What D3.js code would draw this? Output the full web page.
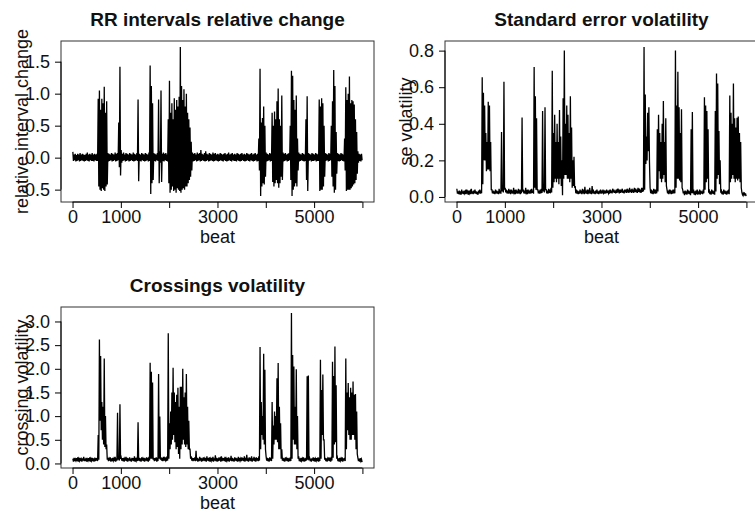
<!DOCTYPE html>
<html lang="en">
<head>
    <meta charset="utf-8">
    <script src="https://cdn.jsdelivr.net/npm/d3@7"></script>
    <title>RR interval volatility</title>
    <style>
        html, body { margin: 0; padding: 0; background: white; }
        svg { display: block; font-family: "Liberation Sans", Arial, sans-serif; }
    </style>
</head>
<body>
<div id="chart"></div>
<script>
    // Series length and bin size: each value below is the highest / lowest value in a 25-beat bin
    // (one row = 20 bins = 500 beats)
    const nBeats = 6000;
    const binSize = 25;

    // RR intervals relative change
    const rrHigh = [
        0.09,0.05,0.06,0.04,0.06,0.05,0.07,0.05,0.06,0.05,0.04,0.06,0.08,0.05,0.06,0.05,0.07,0.05,0.06,0.05,
        0.06,0.92,1.05,0.75,0.92,0.85,1.11,0.70,0.88,0.07,0.06,0.05,0.07,0.06,0.05,0.08,0.06,0.07,0.55,1.42,
        0.12,0.06,0.08,0.05,0.07,0.06,0.05,0.07,0.06,0.05,0.08,0.06,0.05,0.07,0.91,0.06,0.05,0.07,0.06,0.05,
        0.07,0.06,0.05,0.08,1.44,1.12,0.85,0.07,0.06,0.05,0.07,0.91,0.10,1.05,0.06,0.08,0.06,0.07,0.05,0.60,
        1.20,0.70,0.85,0.60,0.93,0.75,0.90,0.80,0.95,1.73,1.12,0.90,1.07,0.80,1.00,0.70,0.60,0.47,0.25,0.08,
        0.06,0.07,0.05,0.08,0.06,0.07,0.12,0.06,0.05,0.07,0.10,0.06,0.05,0.07,0.06,0.05,0.08,0.06,0.07,0.05,
        0.06,0.05,0.07,0.06,0.05,0.06,0.07,0.05,0.06,0.08,0.05,0.06,0.07,0.05,0.06,0.05,0.07,0.06,0.05,0.06,
        0.07,0.05,0.06,0.05,0.07,0.06,0.05,0.06,0.07,0.05,0.06,0.07,0.05,0.06,0.30,1.39,0.55,0.62,0.80,0.50,
        0.08,0.06,0.05,0.07,0.06,0.70,0.50,0.72,0.60,0.88,1.08,0.60,0.50,0.97,0.08,0.06,0.07,0.05,0.06,0.07,
        0.50,1.36,1.28,0.90,0.75,0.97,0.30,0.08,0.06,0.05,0.07,0.06,0.05,0.60,0.96,0.07,0.06,0.05,0.07,0.06,
        0.05,0.07,0.06,0.05,0.91,0.80,0.93,0.85,0.50,0.07,0.06,0.05,0.07,0.06,0.50,0.88,1.37,1.12,0.40,0.07,
        0.06,0.05,0.07,0.06,0.05,0.30,1.10,0.90,1.00,1.27,0.85,0.90,0.88,0.83,0.60,0.40,0.10,0.06,0.05,0.06
    ];
    const rrLow = [
        -0.05,-0.04,-0.06,-0.05,-0.04,-0.06,-0.05,-0.04,-0.05,-0.06,-0.05,-0.04,-0.05,-0.06,-0.04,-0.05,-0.05,-0.06,-0.04,-0.05,
        -0.05,-0.45,-0.50,-0.52,-0.48,-0.50,-0.52,-0.45,-0.42,-0.06,-0.05,-0.04,-0.06,-0.05,-0.04,-0.06,-0.05,-0.04,-0.15,-0.28,
        -0.08,-0.05,-0.04,-0.06,-0.05,-0.04,-0.06,-0.05,-0.04,-0.05,-0.06,-0.05,-0.04,-0.05,-0.37,-0.05,-0.06,-0.04,-0.05,-0.06,
        -0.05,-0.04,-0.06,-0.05,-0.57,-0.40,-0.35,-0.05,-0.06,-0.04,-0.05,-0.40,-0.08,-0.38,-0.05,-0.06,-0.04,-0.05,-0.06,-0.40,
        -0.55,-0.50,-0.45,-0.52,-0.50,-0.55,-0.48,-0.50,-0.52,-0.55,-0.50,-0.48,-0.50,-0.45,-0.45,-0.40,-0.35,-0.30,-0.20,-0.06,
        -0.05,-0.04,-0.06,-0.05,-0.04,-0.06,-0.05,-0.04,-0.05,-0.06,-0.05,-0.04,-0.06,-0.05,-0.04,-0.05,-0.06,-0.05,-0.04,-0.05,
        -0.06,-0.05,-0.04,-0.05,-0.06,-0.04,-0.05,-0.06,-0.05,-0.04,-0.05,-0.06,-0.04,-0.05,-0.05,-0.06,-0.04,-0.05,-0.06,-0.05,
        -0.04,-0.05,-0.06,-0.05,-0.04,-0.05,-0.06,-0.04,-0.05,-0.06,-0.05,-0.04,-0.06,-0.05,-0.20,-0.60,-0.45,-0.40,-0.42,-0.30,
        -0.06,-0.05,-0.04,-0.06,-0.05,-0.38,-0.45,-0.40,-0.35,-0.40,-0.47,-0.40,-0.30,-0.35,-0.06,-0.05,-0.04,-0.06,-0.05,-0.04,
        -0.35,-0.60,-0.50,-0.45,-0.40,-0.45,-0.20,-0.06,-0.05,-0.04,-0.05,-0.06,-0.05,-0.35,-0.52,-0.05,-0.04,-0.06,-0.05,-0.05,
        -0.04,-0.06,-0.05,-0.05,-0.52,-0.50,-0.50,-0.45,-0.30,-0.05,-0.04,-0.06,-0.05,-0.04,-0.30,-0.45,-0.55,-0.50,-0.25,-0.05,
        -0.06,-0.05,-0.04,-0.05,-0.06,-0.20,-0.52,-0.50,-0.50,-0.50,-0.48,-0.45,-0.42,-0.40,-0.35,-0.25,-0.08,-0.05,-0.06,-0.04
    ];

    // Standard error volatility
    const seHigh = [
        0.045,0.03,0.035,0.025,0.04,0.03,0.035,0.03,0.04,0.028,0.035,0.03,0.045,0.03,0.035,0.04,0.03,0.028,0.035,0.04,
        0.035,0.655,0.57,0.50,0.35,0.30,0.52,0.50,0.30,0.04,0.035,0.03,0.04,0.035,0.03,0.045,0.035,0.355,0.05,0.63,
        0.05,0.04,0.035,0.045,0.03,0.04,0.035,0.05,0.03,0.04,0.035,0.045,0.03,0.04,0.435,0.04,0.035,0.05,0.03,0.04,
        0.035,0.04,0.045,0.035,0.71,0.55,0.43,0.04,0.035,0.04,0.045,0.47,0.05,0.49,0.04,0.035,0.045,0.04,0.05,0.69,
        0.35,0.45,0.30,0.40,0.30,0.475,0.33,0.20,0.54,0.80,0.40,0.50,0.45,0.35,0.55,0.38,0.20,0.22,0.06,0.04,
        0.035,0.03,0.04,0.035,0.045,0.03,0.055,0.035,0.04,0.03,0.05,0.035,0.06,0.04,0.03,0.035,0.04,0.03,0.035,0.04,
        0.035,0.04,0.03,0.035,0.04,0.035,0.03,0.04,0.035,0.045,0.04,0.035,0.04,0.045,0.035,0.04,0.04,0.045,0.035,0.04,
        0.04,0.045,0.04,0.05,0.04,0.045,0.04,0.05,0.045,0.04,0.05,0.045,0.04,0.05,0.05,0.82,0.56,0.33,0.46,0.49,
        0.05,0.04,0.035,0.045,0.04,0.04,0.37,0.45,0.35,0.30,0.40,0.525,0.30,0.43,0.04,0.035,0.04,0.03,0.035,0.04,
        0.04,0.80,0.50,0.685,0.49,0.35,0.48,0.04,0.03,0.035,0.03,0.04,0.035,0.03,0.37,0.465,0.04,0.03,0.035,0.04,
        0.03,0.04,0.035,0.03,0.04,0.545,0.50,0.47,0.37,0.035,0.03,0.04,0.035,0.03,0.47,0.675,0.62,0.36,0.20,0.035,
        0.03,0.04,0.035,0.03,0.035,0.04,0.555,0.46,0.40,0.62,0.43,0.38,0.433,0.44,0.35,0.30,0.025,0.02,0.025,0.02
    ];
    const seLow = [
        0.018,0.015,0.02,0.012,0.018,0.015,0.02,0.015,0.018,0.012,0.02,0.015,0.018,0.015,0.02,0.018,0.015,0.012,0.02,0.018,
        0.02,0.07,0.20,0.20,0.14,0.15,0.15,0.14,0.04,0.02,0.018,0.015,0.02,0.018,0.015,0.02,0.018,0.03,0.025,0.04,
        0.025,0.02,0.018,0.02,0.015,0.02,0.018,0.022,0.015,0.02,0.018,0.02,0.015,0.02,0.03,0.02,0.018,0.022,0.015,0.02,
        0.018,0.02,0.022,0.018,0.05,0.04,0.04,0.02,0.018,0.02,0.022,0.03,0.025,0.04,0.02,0.018,0.022,0.02,0.025,0.05,
        0.08,0.10,0.08,0.10,0.07,0.10,0.06,0.01,0.10,0.12,0.12,0.10,0.10,0.08,0.10,0.05,0.06,0.05,0.02,0.018,
        0.015,0.018,0.02,0.015,0.02,0.015,0.02,0.018,0.015,0.02,0.018,0.015,0.02,0.018,0.015,0.02,0.018,0.015,0.02,0.018,
        0.02,0.022,0.018,0.02,0.022,0.02,0.018,0.022,0.02,0.025,0.022,0.02,0.022,0.025,0.02,0.022,0.025,0.022,0.02,0.025,
        0.022,0.025,0.022,0.028,0.022,0.025,0.022,0.028,0.025,0.022,0.028,0.025,0.022,0.028,0.03,0.04,0.18,0.20,0.25,0.19,
        0.02,0.018,0.015,0.02,0.018,0.02,0.03,0.14,0.10,0.08,0.10,0.12,0.08,0.06,0.02,0.015,0.02,0.015,0.018,0.02,
        0.02,0.05,0.10,0.10,0.09,0.08,0.05,0.02,0.01,0.015,0.012,0.018,0.015,0.01,0.02,0.02,0.012,0.01,0.015,0.012,
        0.015,0.012,0.018,0.015,0.02,0.04,0.08,0.10,0.03,0.015,0.012,0.018,0.015,0.012,0.03,0.10,0.12,0.07,0.03,0.015,
        0.012,0.018,0.015,0.012,0.018,0.015,0.08,0.10,0.12,0.10,0.08,0.10,0.09,0.10,0.08,0.05,0.012,0.01,0.008,0.005
    ];

    // Crossings volatility
    const crHigh = [
        0.10,0.12,0.09,0.11,0.13,0.10,0.12,0.09,0.11,0.14,0.10,0.12,0.09,0.11,0.13,0.10,0.12,0.11,0.09,0.12,
        0.11,0.60,2.62,2.27,1.30,1.20,2.22,1.00,0.40,0.12,0.10,0.13,0.11,0.12,0.10,0.14,0.11,1.07,0.15,1.25,
        0.13,0.11,0.12,0.10,0.14,0.12,0.11,0.13,0.10,0.12,0.11,0.15,0.12,0.10,0.87,0.12,0.11,0.13,0.10,0.12,
        0.11,0.13,0.12,0.14,2.13,1.94,1.71,0.12,0.11,0.13,0.12,1.89,0.99,0.13,0.12,0.14,0.11,0.13,0.15,2.75,
        0.85,1.10,1.50,2.02,1.50,1.30,1.45,1.60,1.20,1.62,1.62,2.00,1.40,1.50,1.89,1.20,0.90,0.30,0.15,0.12,
        0.11,0.13,0.27,0.12,0.10,0.14,0.12,0.11,0.13,0.10,0.12,0.15,0.11,0.13,0.10,0.12,0.14,0.11,0.17,0.12,
        0.11,0.13,0.10,0.15,0.12,0.11,0.14,0.10,0.12,0.13,0.11,0.16,0.12,0.10,0.13,0.12,0.11,0.14,0.12,0.10,
        0.13,0.11,0.15,0.12,0.18,0.11,0.13,0.12,0.15,0.11,0.14,0.12,0.13,0.11,0.15,2.46,1.30,1.00,2.32,1.98,
        0.15,0.12,0.11,0.13,0.12,1.30,0.80,1.10,1.00,1.80,2.12,1.20,0.85,0.30,0.12,0.11,0.13,0.10,0.12,0.11,
        0.13,3.18,2.29,2.05,1.20,1.99,1.00,0.15,0.11,0.12,0.10,0.13,0.11,0.12,1.84,1.86,0.12,0.10,0.11,0.13,
        0.12,0.10,0.11,0.13,0.12,2.19,1.55,1.88,0.50,0.12,0.11,0.10,0.13,0.12,0.14,2.15,1.85,2.47,1.65,0.13,
        0.11,0.12,0.10,0.13,0.11,0.12,2.22,1.50,1.70,1.40,1.60,1.50,1.73,1.45,1.47,1.10,0.12,0.10,0.11,0.09
    ];
    const crLow = [
        0.04,0.05,0.06,0.05,0.04,0.06,0.05,0.04,0.06,0.05,0.05,0.04,0.06,0.05,0.04,0.06,0.05,0.04,0.05,0.06,
        0.05,0.08,0.90,0.70,0.50,0.40,0.35,0.30,0.08,0.05,0.06,0.04,0.05,0.06,0.05,0.04,0.06,0.08,0.06,0.10,
        0.06,0.05,0.04,0.06,0.05,0.04,0.06,0.05,0.04,0.06,0.05,0.04,0.06,0.05,0.06,0.05,0.04,0.06,0.05,0.04,
        0.06,0.05,0.04,0.06,0.10,0.10,0.08,0.05,0.06,0.04,0.05,0.10,0.08,0.06,0.05,0.06,0.07,0.05,0.06,0.10,
        0.30,0.40,0.50,0.60,0.45,0.30,0.35,0.20,0.10,0.30,0.40,0.50,0.40,0.35,0.40,0.30,0.30,0.10,0.06,0.05,
        0.06,0.05,0.06,0.04,0.05,0.06,0.04,0.05,0.06,0.05,0.04,0.06,0.05,0.04,0.06,0.05,0.04,0.06,0.05,0.04,
        0.05,0.06,0.04,0.05,0.06,0.05,0.04,0.06,0.05,0.04,0.06,0.05,0.05,0.04,0.06,0.05,0.04,0.05,0.06,0.05,
        0.06,0.05,0.04,0.06,0.05,0.04,0.06,0.05,0.04,0.06,0.05,0.04,0.06,0.05,0.06,0.30,0.60,0.50,0.40,0.30,
        0.06,0.05,0.04,0.06,0.05,0.10,0.40,0.50,0.50,0.45,0.30,0.30,0.10,0.06,0.05,0.04,0.06,0.05,0.04,0.05,
        0.05,0.10,0.50,0.40,0.40,0.30,0.10,0.05,0.04,0.06,0.05,0.04,0.05,0.06,0.08,0.10,0.05,0.04,0.06,0.05,
        0.04,0.06,0.05,0.04,0.05,0.10,0.60,0.50,0.08,0.05,0.04,0.06,0.05,0.04,0.06,0.12,0.40,0.45,0.10,0.05,
        0.04,0.06,0.05,0.04,0.06,0.05,0.30,0.70,0.60,0.50,0.50,0.60,0.60,0.50,0.30,0.20,0.05,0.04,0.05,0.03
    ];

    // Tick values and labels (R drops the labels that would crowd)
    const xTicks = [0, 1000, 2000, 3000, 4000, 5000, 6000];
    const xTickLabels = ["0", "1000", "", "3000", "", "5000", ""];
    const rrTicks = [-0.5, 0, 0.5, 1, 1.5];
    const seTicks = [0, 0.2, 0.4, 0.6, 0.8];
    const crTicks = [0, 0.5, 1, 1.5, 2, 2.5, 3];

    // Plot box size (same for all three panels)
    const box = {w: 313, h: 161};
    const pad = 0.04; // R style axis extension

    const svg = d3.select("#chart")
        .append("svg")
            .attr("width", 755)
            .attr("height", 518);

    function drawPanel(left, top, title, ylab, high, low, yTicks) {
        const g = svg.append("g").attr("transform", `translate(${left},${top})`);

        // Scales
        const x = d3.scaleLinear()
            .domain([1 - pad * (nBeats - 1), nBeats + pad * (nBeats - 1)])
            .range([0, box.w]);
        const yMin = d3.min(low), yMax = d3.max(high);
        const y = d3.scaleLinear()
            .domain([yMin - pad * (yMax - yMin), yMax + pad * (yMax - yMin)])
            .range([box.h, 0]);

        // Line: goes through each bin's high then its low
        const pts = [];
        d3.range(Math.min(high.length, low.length)).forEach(i => {
            pts.push([i * binSize + binSize / 4, high[i]]);
            pts.push([i * binSize + 3 * binSize / 4, low[i]]);
        });
        g.append("path")
            .datum(pts)
            .attr("d", d3.line().x(d => x(d[0])).y(d => y(d[1])))
            .attr("fill", "none")
            .attr("stroke", "black")
            .attr("stroke-width", 1.3);

        // Box
        g.append("rect")
            .attr("width", box.w)
            .attr("height", box.h)
            .attr("fill", "none")
            .attr("stroke", "#333");

        // X axis
        const xAxis = g.append("g")
            .attr("transform", `translate(0,${box.h})`)
            .call(d3.axisBottom(x).tickValues(xTicks).tickFormat((d, i) => xTickLabels[i]).tickSize(6));
        xAxis.select(".domain").remove();
        xAxis.append("line")
            .attr("x1", x(xTicks[0])).attr("x2", x(xTicks[xTicks.length - 1]))
            .attr("stroke", "black");
        xAxis.selectAll("text")
            .attr("y", 21).attr("dy", null)
            .attr("font-size", 18).attr("font-family", "Liberation Sans, Arial, sans-serif")
            .attr("fill", "#111");

        // Y axis
        const yAxis = g.append("g")
            .call(d3.axisLeft(y).tickValues(yTicks).tickFormat(v => v.toFixed(1)).tickSize(6).tickPadding(5));
        yAxis.select(".domain").remove();
        yAxis.append("line")
            .attr("y1", y(yTicks[0])).attr("y2", y(yTicks[yTicks.length - 1]))
            .attr("stroke", "black");
        yAxis.selectAll("text")
            .attr("font-size", 18).attr("font-family", "Liberation Sans, Arial, sans-serif")
            .attr("fill", "#111");

        // Title
        g.append("text")
            .attr("x", box.w / 2)
            .attr("y", -15)
            .attr("text-anchor", "middle")
            .style("font-size", "19px")
            .style("font-weight", "bold")
            .attr("fill", "#111")
            .text(title);

        // X label
        g.append("text")
            .attr("x", box.w / 2)
            .attr("y", box.h + 41)
            .attr("text-anchor", "middle")
            .style("font-size", "18px")
            .attr("fill", "#111")
            .text("beat");

        // Y label
        g.append("text")
            .attr("transform", `translate(-33,${box.h / 2}) rotate(-90)`)
            .attr("text-anchor", "middle")
            .style("font-size", "18px")
            .attr("fill", "#111")
            .text(ylab);
    }

    drawPanel(61, 41, "RR intervals relative change", "relative interval change", rrHigh, rrLow, rrTicks);
    drawPanel(445, 41, "Standard error volatility", "se volatility", seHigh, seLow, seTicks);
    drawPanel(61, 307, "Crossings volatility", "crossing volatility", crHigh, crLow, crTicks);
</script>
</body>
</html>
